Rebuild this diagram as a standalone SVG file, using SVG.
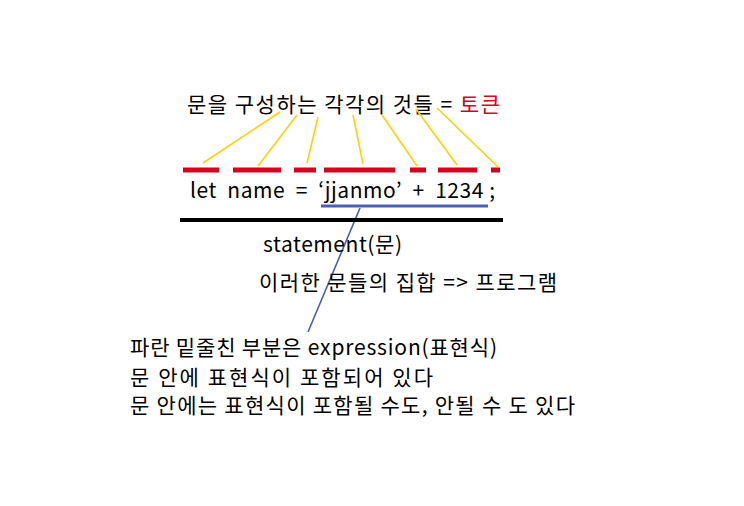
<svg xmlns="http://www.w3.org/2000/svg" width="744" height="506" viewBox="0 0 744 506">
<style>
text{font-family:"Noto Sans CJK KR","Noto Sans",sans-serif;fill:#000;font-size:21px}
.y{stroke:#ffd200;stroke-width:1.6;fill:none}
.r{stroke:#d9001b;stroke-width:5;fill:none}
</style>
<rect width="744" height="506" fill="#fff"/>
<g id="title"><text x="187" y="112" textLength="313">문을 구성하는 각각의 것들 = <tspan fill="#d9001b">토큰</tspan></text></g>
<g id="connectors">
<path class="y" d="M280 112L203 163M297 115L258 166M318 117L307 163M353 115L363 164M382 115L417 166M416 109L457 165M437 108L498 167"/>
<path class="r" d="M183 170H219M233 170H281M294 170H316M324 170H395M410 170H426M438 170H477M491 170H500"/>
<path d="M321 206H488" stroke="#4a5fb0" stroke-width="3"/>
<path d="M360 208L308 332" stroke="#4a5fb0" stroke-width="1.6"/>
<path d="M180 220H503" stroke="#000" stroke-width="4"/>
</g>
<g id="code"><text x="190" y="198" xml:space="preserve" textLength="305">let  name  =  ‘jjanmo’  +  1234 ;</text></g>
<g id="statement"><text x="263" y="252" font-size="20" textLength="139">statement(문)</text></g>
<g id="program"><text x="259" y="290" textLength="298">이러한 문들의 집합 =&gt; 프로그램</text></g>
<g id="notes">
<text x="130" y="355" textLength="367">파란 밑줄친 부분은 expression(표현식)</text>
<text x="130" y="385" textLength="303">문 안에 표현식이 포함되어 있다</text>
<text x="130" y="413" textLength="445">문 안에는 표현식이 포함될 수도, 안될 수 도 있다</text>
</g>
</svg>
